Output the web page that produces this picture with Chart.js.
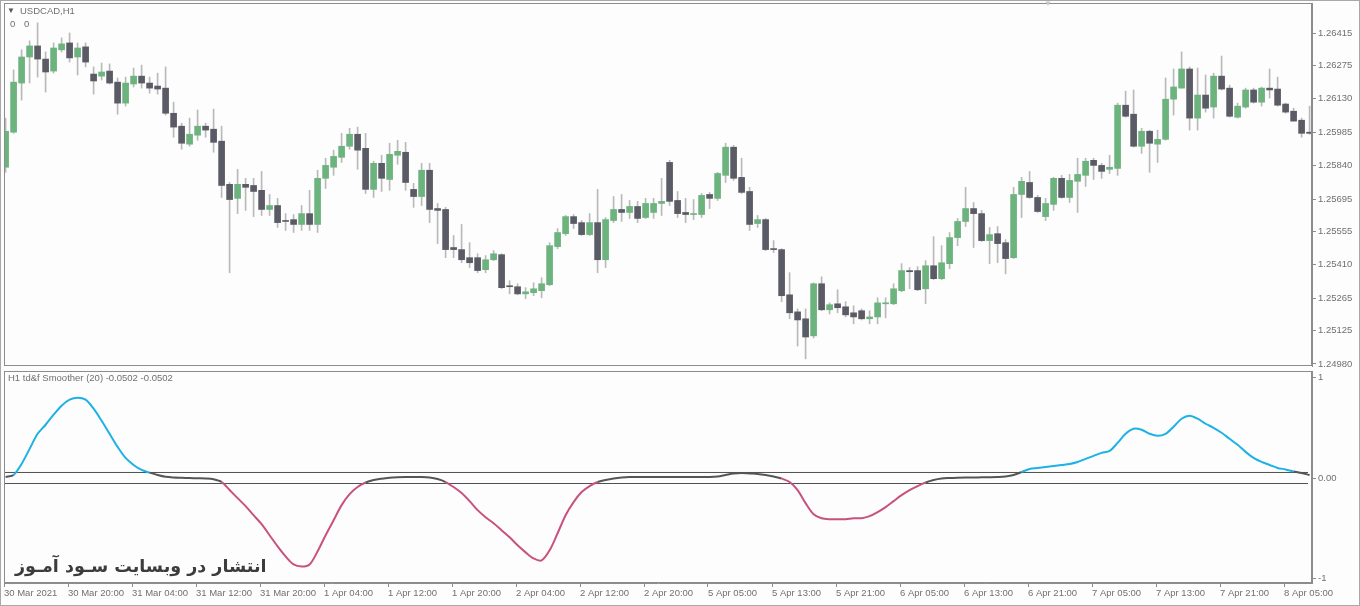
<!DOCTYPE html>
<html lang="en">
<head>
<meta charset="UTF-8">
<title>USDCAD H1 - td&f Smoother</title>
<script src="https://cdn.jsdelivr.net/npm/chart.js@4.4.0/dist/chart.umd.min.js"></script>
<style>
  body { margin: 0; background: #fdfdfd; width: 1360px; height: 606px; overflow: hidden; position: relative; font-family: "Liberation Sans", Arial, sans-serif; }
  canvas { position: absolute; left: 0; }
  #priceChart { top: 0; }
  #indChart { top: 369px; }
  .lbl { position: absolute; font-size: 9.5px; color: #707070; white-space: nowrap; }
  #frame { position: absolute; left: 0; top: 0; width: 1358px; height: 604px; border: 1px solid #a8a8a8; pointer-events: none; }
  #mark { position: absolute; left: 15px; top: 556px; font: bold 17.5px "DejaVu Sans", sans-serif; color: #3c3c3c; direction: rtl; white-space: nowrap; }
</style>
</head>
<body>
<div id="frame"></div>
<canvas id="priceChart" width="1360" height="369"></canvas>
<canvas id="indChart" width="1360" height="237"></canvas>
<div class="lbl" style="left:7px;top:6px;font-size:8px;color:#555">&#9660;</div>
<div class="lbl" style="left:20px;top:5px">USDCAD,H1</div>
<div class="lbl" style="left:10px;top:18px">0</div>
<div class="lbl" style="left:24px;top:18px">0</div>
<div class="lbl" style="left:1044px;top:-1px;font-size:8px;color:#c8c8c8">&#9660;</div>
<div class="lbl" style="left:8px;top:372px">H1 td&amp;f Smoother (20) -0.0502 -0.0502</div>
<div id="mark">انتشار در وبسایت سـود آمـوز</div>

<script>
// USDCAD H1 candles, 30 Mar 2021 -> 8 Apr 2021
const open = [
  1.25833,1.25985,1.26198,1.26311,1.26359,1.26302,1.26250,1.26342,1.26372,1.26311,
  1.26355,1.26237,1.26228,1.26250,1.26202,1.26111,1.26194,1.26228,1.26198,1.26185,
  1.26176,1.26067,1.26011,1.25933,1.25972,1.26011,1.25998,1.25946,1.25759,1.25698,
  1.25759,1.25754,1.25733,1.25650,1.25667,1.25602,1.25606,1.25585,1.25632,1.25585,
  1.25785,1.25833,1.25876,1.25924,1.25976,1.25915,1.25737,1.25850,1.25780,1.25885,
  1.25898,1.25737,1.25706,1.25820,1.25654,1.25650,1.25485,1.25476,1.25441,1.25441,
  1.25389,1.25432,1.25454,1.25319,1.25315,1.25284,1.25289,1.25298,1.25324,1.25489,
  1.25545,1.25619,1.25593,1.25541,1.25593,1.25432,1.25602,1.25650,1.25637,1.25663,
  1.25615,1.25637,1.25676,1.25854,1.25689,1.25637,1.25628,1.25628,1.25715,1.25698,
  1.25798,1.25920,1.25789,1.25728,1.25589,1.25606,1.25480,1.25476,1.25280,1.25206,
  1.25176,1.25102,1.25328,1.25215,1.25241,1.25228,1.25202,1.25211,1.25176,1.25184,
  1.25241,1.25241,1.25298,1.25385,1.25385,1.25306,1.25406,1.25350,1.25415,1.25528,
  1.25598,1.25654,1.25632,1.25515,1.25545,1.25506,1.25441,1.25715,1.25767,1.25702,
  1.25619,1.25672,1.25785,1.25702,1.25772,1.25798,1.25863,1.25841,1.25824,1.25828,
  1.26102,1.26063,1.25924,1.25989,1.25933,1.25954,1.26128,1.26176,1.26259,1.26046,
  1.26146,1.26094,1.26228,1.26176,1.26050,1.26094,1.26168,1.26115,1.26176,1.26172,
  1.26107,1.26076,1.26037,1.25985
];
const high = [
  1.26046,1.26255,1.26342,1.26381,1.26459,1.26333,1.26372,1.26394,1.26415,1.26372,
  1.26372,1.26268,1.26285,1.26281,1.26220,1.26224,1.26263,1.26276,1.26224,1.26241,
  1.26268,1.26115,1.26024,1.26046,1.26081,1.26024,1.26085,1.26011,1.25767,1.25824,
  1.25785,1.25785,1.25815,1.25715,1.25698,1.25632,1.25628,1.25667,1.25733,1.25820,
  1.25872,1.25907,1.25980,1.26002,1.26007,1.25980,1.25859,1.25885,1.25937,1.25950,
  1.25941,1.25763,1.25850,1.25850,1.25676,1.25659,1.25537,1.25585,1.25506,1.25458,
  1.25450,1.25472,1.25458,1.25341,1.25328,1.25311,1.25332,1.25354,1.25506,1.25567,
  1.25624,1.25628,1.25602,1.25632,1.25737,1.25615,1.25706,1.25715,1.25689,1.25685,
  1.25698,1.25698,1.25785,1.25863,1.25728,1.25698,1.25693,1.25719,1.25724,1.25811,
  1.25937,1.25928,1.25872,1.25746,1.25624,1.25611,1.25515,1.25480,1.25376,1.25219,
  1.25219,1.25332,1.25358,1.25245,1.25302,1.25250,1.25232,1.25219,1.25211,1.25267,
  1.25267,1.25328,1.25415,1.25398,1.25402,1.25428,1.25532,1.25493,1.25550,1.25611,
  1.25746,1.25680,1.25646,1.25572,1.25576,1.25519,1.25746,1.25789,1.25815,1.25711,
  1.25698,1.25789,1.25798,1.25802,1.25872,1.25872,1.25872,1.25850,1.25885,1.26111,
  1.26163,1.26168,1.26002,1.25994,1.25994,1.26220,1.26259,1.26333,1.26268,1.26263,
  1.26233,1.26241,1.26315,1.26189,1.26111,1.26176,1.26176,1.26181,1.26259,1.26224,
  1.26111,1.26089,1.26046,1.26098
];
const low = [
  1.25811,1.25980,1.26124,1.26198,1.26224,1.26159,1.26241,1.26333,1.26289,1.26233,
  1.26268,1.26150,1.26211,1.26194,1.26063,1.26098,1.26181,1.26176,1.26154,1.26150,
  1.26059,1.25963,1.25911,1.25924,1.25950,1.25963,1.25898,1.25702,1.25376,1.25632,
  1.25646,1.25619,1.25624,1.25624,1.25572,1.25559,1.25550,1.25559,1.25559,1.25550,
  1.25741,1.25798,1.25854,1.25911,1.25824,1.25719,1.25702,1.25728,1.25733,1.25846,
  1.25733,1.25659,1.25667,1.25593,1.25502,1.25441,1.25441,1.25419,1.25398,1.25376,
  1.25376,1.25428,1.25306,1.25284,1.25280,1.25263,1.25276,1.25267,1.25319,1.25480,
  1.25537,1.25567,1.25537,1.25537,1.25376,1.25398,1.25593,1.25598,1.25611,1.25593,
  1.25611,1.25611,1.25624,1.25667,1.25615,1.25593,1.25606,1.25615,1.25654,1.25689,
  1.25767,1.25776,1.25719,1.25559,1.25572,1.25472,1.25463,1.25250,1.25176,1.25058,
  1.25002,1.25093,1.25211,1.25197,1.25202,1.25184,1.25154,1.25171,1.25154,1.25154,
  1.25180,1.25237,1.25293,1.25306,1.25298,1.25241,1.25345,1.25345,1.25393,1.25493,
  1.25576,1.25485,1.25511,1.25415,1.25419,1.25371,1.25437,1.25615,1.25698,1.25637,
  1.25602,1.25646,1.25698,1.25680,1.25637,1.25750,1.25780,1.25785,1.25806,1.25798,
  1.26050,1.25920,1.25893,1.25811,1.25854,1.25950,1.26059,1.26176,1.25994,1.25994,
  1.26072,1.26046,1.26168,1.26050,1.26046,1.26089,1.26111,1.26098,1.26133,1.26098,
  1.26067,1.26033,1.25963,1.25976
];
const close = [
  1.25989,1.26202,1.26311,1.26359,1.26302,1.26246,1.26350,1.26368,1.26307,1.26350,
  1.26289,1.26207,1.26246,1.26198,1.26111,1.26198,1.26228,1.26198,1.26176,1.26172,
  1.26067,1.26007,1.25937,1.25976,1.26011,1.25994,1.25941,1.25754,1.25693,1.25759,
  1.25746,1.25728,1.25650,1.25667,1.25593,1.25598,1.25585,1.25632,1.25585,1.25785,
  1.25841,1.25880,1.25924,1.25976,1.25907,1.25737,1.25850,1.25785,1.25889,1.25902,
  1.25767,1.25706,1.25820,1.25650,1.25646,1.25476,1.25476,1.25432,1.25419,1.25385,
  1.25432,1.25458,1.25311,1.25315,1.25284,1.25293,1.25306,1.25328,1.25493,1.25550,
  1.25619,1.25589,1.25541,1.25593,1.25432,1.25606,1.25650,1.25637,1.25663,1.25611,
  1.25676,1.25676,1.25685,1.25685,1.25632,1.25628,1.25632,1.25711,1.25698,1.25806,
  1.25920,1.25785,1.25724,1.25585,1.25606,1.25476,1.25476,1.25276,1.25202,1.25171,
  1.25097,1.25328,1.25215,1.25237,1.25224,1.25193,1.25184,1.25176,1.25184,1.25245,
  1.25245,1.25306,1.25385,1.25380,1.25302,1.25406,1.25350,1.25419,1.25528,1.25598,
  1.25654,1.25632,1.25515,1.25541,1.25502,1.25437,1.25715,1.25772,1.25702,1.25641,
  1.25676,1.25785,1.25702,1.25776,1.25802,1.25859,1.25841,1.25815,1.25833,1.26102,
  1.26054,1.25924,1.25989,1.25937,1.25954,1.26128,1.26181,1.26259,1.26046,1.26146,
  1.26089,1.26228,1.26172,1.26054,1.26098,1.26168,1.26115,1.26176,1.26168,1.26102,
  1.26072,1.26033,1.25980,1.25980
];

// td&f Smoother (20), one value per bar
const smoother = [
  0.01,0.03,0.14,0.29,0.44,0.53,0.63,0.72,0.78,0.80,
  0.78,0.69,0.57,0.44,0.31,0.20,0.13,0.08,0.054,0.03,
  0.012,0.005,0.002,0,-0.003,-0.005,-0.013,-0.04,-0.12,-0.20,
  -0.28,-0.37,-0.46,-0.57,-0.68,-0.78,-0.86,-0.88,-0.86,-0.73,
  -0.57,-0.42,-0.27,-0.16,-0.09,-0.045,-0.02,-0.007,0.002,0.007,
  0.01,0.01,0.01,0.005,-0.01,-0.04,-0.09,-0.15,-0.23,-0.32,
  -0.39,-0.45,-0.52,-0.59,-0.67,-0.74,-0.80,-0.82,-0.72,-0.55,
  -0.37,-0.24,-0.14,-0.08,-0.04,-0.02,-0.005,0.005,0.01,0.01,
  0.01,0.01,0.01,0.01,0.01,0.01,0.01,0.01,0.01,0.015,
  0.03,0.045,0.05,0.045,0.04,0.03,0.015,-0.005,-0.04,-0.12,
  -0.25,-0.36,-0.40,-0.41,-0.41,-0.41,-0.40,-0.40,-0.38,-0.34,
  -0.29,-0.23,-0.17,-0.12,-0.08,-0.045,-0.02,-0.005,0,0.003,
  0.005,0.005,0.007,0.008,0.01,0.015,0.03,0.06,0.09,0.10,
  0.11,0.12,0.13,0.14,0.16,0.19,0.22,0.25,0.27,0.35,
  0.44,0.49,0.48,0.44,0.42,0.44,0.51,0.59,0.62,0.59,
  0.54,0.50,0.45,0.39,0.33,0.26,0.20,0.16,0.13,0.10,
  0.085,0.065,0.05,0.03
];
// bar ranges where the smoother is drawn in its up / down colour
const upRanges = [[1, 17], [127, 160]];
const downRanges = [[27, 44], [55, 73], [97, 114]];
const levels = [0.055, -0.055];

const priceTicks = [1.26415, 1.26275, 1.26130, 1.25985, 1.25840, 1.25695, 1.25555, 1.25410, 1.25265, 1.25125, 1.24980];
const indTicks = [1, 0, -1];
const timeLabels = [
  '30 Mar 2021', '30 Mar 20:00', '31 Mar 04:00', '31 Mar 12:00', '31 Mar 20:00',
  '1 Apr 04:00', '1 Apr 12:00', '1 Apr 20:00', '2 Apr 04:00', '2 Apr 12:00', '2 Apr 20:00',
  '5 Apr 05:00', '5 Apr 13:00', '5 Apr 21:00', '6 Apr 05:00', '6 Apr 13:00', '6 Apr 21:00',
  '7 Apr 05:00', '7 Apr 13:00', '7 Apr 21:00', '8 Apr 05:00'
];

const BULL = '#6cb37e';
const BEAR = '#5b5b66';
const WICK = '#b9b9b9';
const UP = '#1cb2e4';
const DOWN = '#c8527f';
const FLAT = '#555555';
const AXIS = '#8c8c8c';
const TXT = '#707070';
const X_MIN = -0.2, X_MAX = 163.3;
const tickFont = { family: 'Liberation Sans', size: 9.5 };

const framePlugin = {
  id: 'frame',
  afterDraw(chart) {
    const a = chart.chartArea, ctx = chart.ctx;
    ctx.save();
    ctx.strokeStyle = AXIS;
    ctx.lineWidth = 1;
    ctx.strokeRect(a.left + 0.5, a.top + 0.5, a.right - a.left - 1, a.bottom - a.top - 1);
    ctx.restore();
  }
};

// keep the plot box where the screenshot has it (no extra room for edge labels)
function fixY(s) {
  s.width = 48;
  s.paddingTop = 0;
  s.paddingBottom = 0;
}

const idx = open.map((_, i) => i);

new Chart(document.getElementById('priceChart'), {
  type: 'bar',
  data: {
    datasets: [{
      label: 'body',
      order: 0,
      data: idx.map(i => ({ x: i, y: [open[i], close[i]] })),
      backgroundColor: idx.map(i => close[i] >= open[i] ? BULL : BEAR),
      barThickness: 6,
      minBarLength: 1,
      grouped: false
    }, {
      label: 'wick',
      order: 1,
      data: idx.map(i => ({ x: i, y: [low[i], high[i]] })),
      backgroundColor: WICK,
      barThickness: 1,
      grouped: false
    }]
  },
  options: {
    responsive: false,
    animation: false,
    layout: { padding: { left: 4, top: 3, right: 0, bottom: 3 } },
    plugins: { legend: { display: false }, tooltip: { enabled: false } },
    scales: {
      x: { type: 'linear', min: X_MIN, max: X_MAX, offset: false, display: false },
      y: {
        position: 'right',
        min: 1.249713,
        max: 1.265451,
        afterBuildTicks: s => { s.ticks = priceTicks.map(v => ({ value: v })); },
        afterFit: fixY,
        border: { color: AXIS },
        grid: { drawOnChartArea: false, tickLength: 4, color: AXIS },
        ticks: { color: TXT, font: tickFont, padding: 2, callback: v => v.toFixed(5) }
      }
    }
  },
  plugins: [framePlugin]
});

function trendColor(i) {
  if (upRanges.some(r => i >= r[0] && i <= r[1])) return UP;
  if (downRanges.some(r => i >= r[0] && i <= r[1])) return DOWN;
  return FLAT;
}

new Chart(document.getElementById('indChart'), {
  type: 'line',
  data: {
    datasets: [{
      label: 'smoother',
      data: smoother.map((v, i) => ({ x: i, y: v })),
      borderWidth: 2,
      pointRadius: 0,
      tension: 0.3,
      borderColor: FLAT,
      segment: { borderColor: c => trendColor(c.p0DataIndex) }
    }].concat(levels.map(l => ({
      label: 'level',
      data: [{ x: X_MIN, y: l }, { x: 162.8, y: l }],
      borderWidth: 1,
      borderColor: '#505050',
      pointRadius: 0
    })))
  },
  options: {
    responsive: false,
    animation: false,
    layout: { padding: { left: 4, top: 2, right: 0, bottom: 0 } },
    plugins: { legend: { display: false }, tooltip: { enabled: false } },
    scales: {
      x: {
        type: 'linear',
        min: X_MIN,
        max: X_MAX,
        afterBuildTicks: s => { s.ticks = timeLabels.map((_, k) => ({ value: X_MIN + 8 * k })); },
        afterFit: s => { s.height = 23; s.paddingLeft = 0; s.paddingRight = 0; },
        border: { color: AXIS },
        grid: { drawOnChartArea: false, tickLength: 4, color: AXIS },
        ticks: {
          color: TXT, font: tickFont, padding: 1, align: 'start', autoSkip: false, maxRotation: 0,
          callback: (v, k) => timeLabels[k]
        }
      },
      y: {
        position: 'right',
        min: -1.045,
        max: 1.065,
        afterBuildTicks: s => { s.ticks = indTicks.map(v => ({ value: v })); },
        afterFit: fixY,
        border: { color: AXIS },
        grid: { drawOnChartArea: false, tickLength: 4, color: AXIS },
        ticks: { color: TXT, font: tickFont, padding: 2, callback: v => v === 0 ? '0.00' : String(v) }
      }
    }
  },
  plugins: [framePlugin]
});
</script>
</body>
</html>
